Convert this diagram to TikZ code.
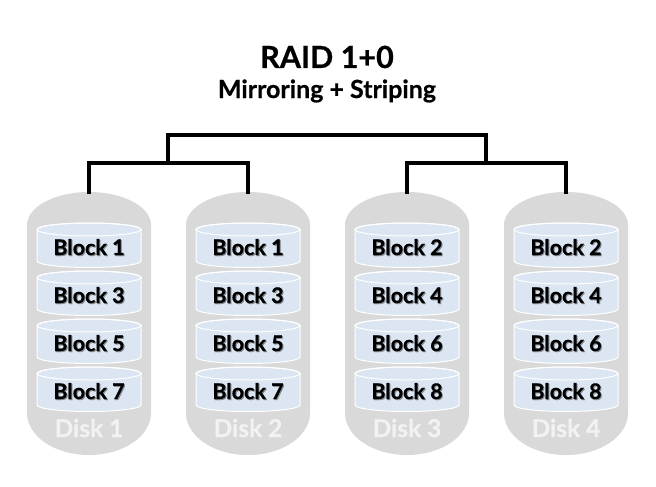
\documentclass[tikz,border=0pt]{standalone}
\usepackage{fontspec}
\setmainfont{Lato}[BoldFeatures={FakeBold=0.6}]
\definecolor{diskgray}{HTML}{D9D9D9}
\definecolor{blockblue}{HTML}{DCE6F2}
\definecolor{disklabel}{HTML}{F2F2F2}
\tikzset{
  link/.style={line width=4pt, line join=miter, line cap=rect},
  disktext/.style={anchor=base, text=disklabel, font=\bfseries\fontsize{24.5}{24.5}\selectfont, inner sep=0pt},
  blocktext/.style={anchor=base, text=black, font=\bfseries\fontsize{21.5}{21.5}\selectfont, inner sep=0pt},
  blockshadow/.style={anchor=base, text=black, opacity=0.35, font=\bfseries\fontsize{21.5}{21.5}\selectfont, inner sep=0pt},
  titletext/.style={anchor=base, font=\bfseries\fontsize{30.5}{30.5}\selectfont, inner sep=0pt},
  subtext/.style={anchor=base, font=\bfseries\fontsize{25}{25}\selectfont, inner sep=0pt}
}
\begin{document}
\begin{tikzpicture}[x=1pt,y=-1pt]
\useasboundingbox[fill=white] (0,0) rectangle (656,487);

% title
\node[titletext] (title) at (327,68) {RAID 1+0};
\node[subtext] (subtitle) at (327,98) {Mirroring + Striping};

% disks
\foreach \cx/\dn/\ba/\bb/\bc/\bd in {89/1/1/3/5/7, 248/2/1/3/5/7, 407/3/2/4/6/8, 566/4/2/4/6/8}{
  \fill[diskgray] (\cx-62,225) arc[start angle=180, end angle=360, x radius=62, y radius=33]
     -- (\cx+62,413) arc[start angle=0, end angle=180, x radius=62, y radius=42] -- cycle;
  \coordinate (disk\dn) at (\cx,192);
  \foreach \t/\bn [count=\i] in {223/\ba, 271/\bb, 319/\bc, 367/\bd}{
    \filldraw[fill=blockblue, draw=white, line width=1pt]
      (\cx-52,\t+6.5) -- (\cx-52,\t+44.5-6.5)
      arc[start angle=180, end angle=0, x radius=52, y radius=6.5]
      -- (\cx+52,\t+6.5)
      arc[start angle=0, end angle=-180, x radius=52, y radius=6.5] -- cycle;
    \draw[white, line width=1pt] (\cx,\t+6.5) ellipse[x radius=52, y radius=6.5];
    \node[blockshadow] at (\cx+1,\t+33) {Block \bn};
    \node[blocktext] (b\dn\i) at (\cx,\t+32) {Block \bn};
  }
  \node[disktext] (dl\dn) at (\cx,437) {Disk \dn};
}

% connectors
\coordinate (m1) at (168,163);
\coordinate (m2) at (486,163);
\draw[link] (m1) |- (327,135) -| (m2);
\draw[link] (disk1) |- (m1) -| (disk2);
\draw[link] (disk3) |- (m2) -| (disk4);
\end{tikzpicture}
\end{document}
